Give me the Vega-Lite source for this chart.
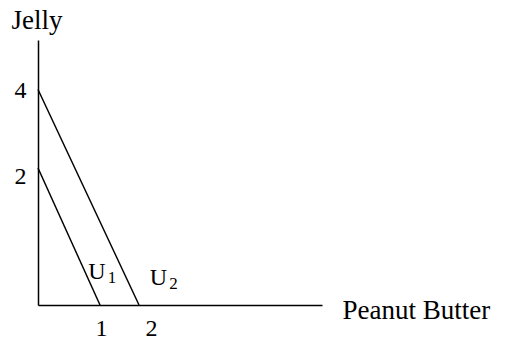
{
  "$schema": "https://vega.github.io/schema/vega-lite/v6.json",
  "width": 284,
  "height": 265,
  "autosize": "none",
  "padding": {"left": 38, "top": 40, "right": 183, "bottom": 38},
  "background": "white",
  "config": {"view": {"stroke": null}, "font": "Liberation Serif"},
  "datasets": {
    "curves": [
      {"curve": "U1", "peanut_butter": 0, "jelly": 2},
      {"curve": "U1", "peanut_butter": 1, "jelly": 0},
      {"curve": "U2", "peanut_butter": 0, "jelly": 4},
      {"curve": "U2", "peanut_butter": 2, "jelly": 0}
    ],
    "curve_labels": [
      {"name": "U", "sub": "1", "peanut_butter": 0.95, "jelly": 0.48},
      {"name": "U", "sub": "2", "peanut_butter": 2.5, "jelly": 0.39}
    ]
  },
  "encoding": {
    "x": {
      "field": "peanut_butter",
      "type": "quantitative",
      "scale": {"domain": [0, 1, 6.69], "range": [0, 62, 284], "nice": false, "zero": false},
      "axis": {
        "values": [1, 2],
        "title": "Peanut Butter",
        "ticks": false,
        "grid": false,
        "domainColor": "black",
        "domainWidth": 1.5,
        "labelFont": "Liberation Serif",
        "labelFontSize": 24,
        "labelColor": "black",
        "labelPadding": 11,
        "labelOffset": {"condition": {"test": "datum.value === 2", "value": 12}, "value": 1},
        "titleFont": "Liberation Serif",
        "titleFontSize": 27,
        "titleFontWeight": "normal",
        "titleColor": "black",
        "titleAlign": "left",
        "titleBaseline": "alphabetic",
        "titleX": 304,
        "titleY": 13
      }
    },
    "y": {
      "field": "jelly",
      "type": "quantitative",
      "scale": {"domain": [0, 2, 5.26], "range": [265, 128, 0], "nice": false, "zero": false},
      "axis": {
        "values": [2, 4],
        "title": "Jelly",
        "ticks": false,
        "grid": false,
        "domainColor": "black",
        "domainWidth": 1.5,
        "labelFont": "Liberation Serif",
        "labelFontSize": 24,
        "labelColor": "black",
        "labelPadding": 12,
        "labelOffset": {"condition": {"test": "datum.value === 2", "value": 8}, "value": 1},
        "titleFont": "Liberation Serif",
        "titleFontSize": 27,
        "titleFontWeight": "normal",
        "titleColor": "black",
        "titleAngle": 0,
        "titleAlign": "left",
        "titleBaseline": "alphabetic",
        "titleX": -27,
        "titleY": -12
      }
    }
  },
  "layer": [
    {
      "data": {"name": "curves"},
      "mark": {"type": "line", "color": "black", "strokeWidth": 1.5},
      "encoding": {"detail": {"field": "curve"}}
    },
    {
      "data": {"name": "curve_labels"},
      "mark": {"type": "text", "font": "Liberation Serif", "fontSize": 24, "color": "black", "align": "center", "baseline": "middle"},
      "encoding": {"text": {"field": "name"}}
    },
    {
      "data": {"name": "curve_labels"},
      "mark": {"type": "text", "font": "Liberation Serif", "fontSize": 17, "color": "black", "align": "center", "baseline": "middle", "dx": 15, "dy": 6},
      "encoding": {"text": {"field": "sub"}}
    }
  ]
}
